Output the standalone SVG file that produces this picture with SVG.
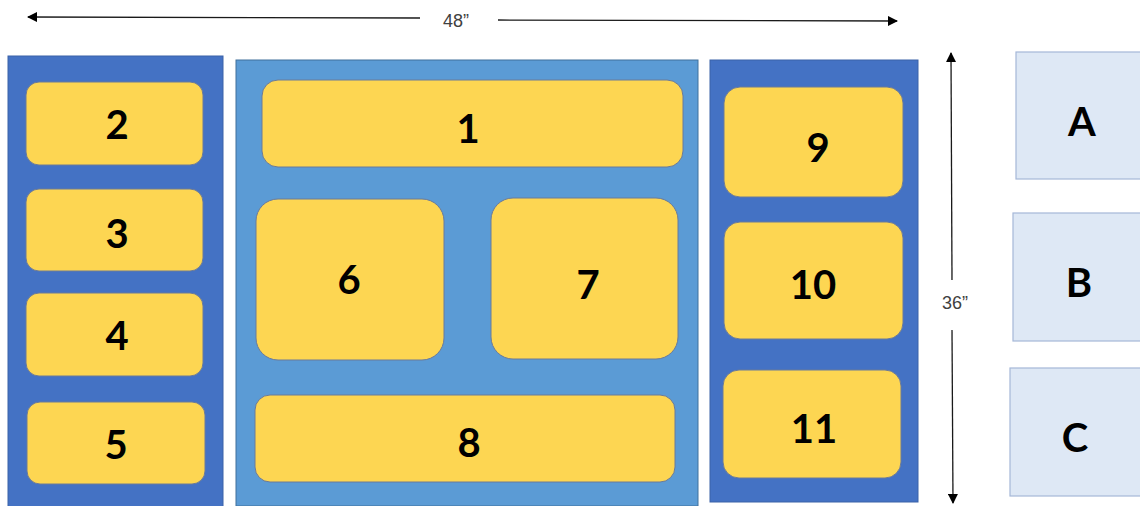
<svg xmlns="http://www.w3.org/2000/svg" width="1140" height="506" viewBox="0 0 1140 506">
<defs>
<style>
.dark{fill:#4472C4;stroke:#3A62A8;stroke-width:1}
.mid{fill:#5B9BD5;stroke:#41719C;stroke-width:1}
.box{fill:#FDD652;stroke:#6B7A99;stroke-width:1}
.side{fill:#DEE8F5;stroke:#A5B7D8;stroke-width:1.2}
.lbl{font-family:Lato,"Open Sans",sans-serif;font-weight:bold;font-size:40px;fill:#000;text-anchor:middle}
.dim{font-family:"Liberation Sans",Arial,sans-serif;font-size:18px;fill:#404040;text-anchor:middle}
.line{stroke:#1a1a1a;stroke-width:1.3;fill:none}
</style>
<marker id="ah" viewBox="0 0 10 10" refX="9" refY="5" markerWidth="10" markerHeight="10" markerUnits="userSpaceOnUse" orient="auto">
<path d="M0,0 L10,5 L0,10 Z" fill="#000"/>
</marker>
</defs>
<rect width="1140" height="506" fill="#fff"/>
<g id="panels">
<rect id="panel-left" class="dark" x="8" y="56" width="215" height="452"/>
<rect id="panel-center" class="mid" x="236" y="60" width="462" height="446"/>
<rect id="panel-right" class="dark" x="710" y="60" width="208" height="442"/>
</g>
<g id="connectors">
<line class="line" x1="420" y1="18" x2="28" y2="17" marker-end="url(#ah)"/>
<line class="line" x1="498" y1="20" x2="897" y2="21" marker-end="url(#ah)"/>
<line class="line" x1="952" y1="280" x2="951" y2="53" marker-end="url(#ah)"/>
<line class="line" x1="952" y1="330" x2="953" y2="503" marker-end="url(#ah)"/>
</g>
<g id="dim-48"><text class="dim" x="456" y="27">48”</text></g>
<g id="dim-36"><text class="dim" x="955" y="309">36”</text></g>
<g id="n1"><rect class="box" x="262" y="80" width="421" height="87" rx="16"/><text class="lbl" x="468" y="143">1</text></g>
<g id="n2"><rect class="box" x="26" y="82" width="177" height="83" rx="13"/><text class="lbl" x="117" y="139">2</text></g>
<g id="n3"><rect class="box" x="26" y="189" width="177" height="82" rx="13"/><text class="lbl" x="117" y="248">3</text></g>
<g id="n4"><rect class="box" x="26" y="293" width="177" height="83" rx="13"/><text class="lbl" x="117" y="350">4</text></g>
<g id="n5"><rect class="box" x="27" y="402" width="178" height="82" rx="13"/><text class="lbl" x="116" y="459">5</text></g>
<g id="n6"><rect class="box" x="256" y="199" width="188" height="161" rx="22"/><text class="lbl" x="349" y="294">6</text></g>
<g id="n7"><rect class="box" x="491" y="198" width="187" height="161" rx="22"/><text class="lbl" x="588" y="299">7</text></g>
<g id="n8"><rect class="box" x="255" y="395" width="420" height="87" rx="15"/><text class="lbl" x="469" y="457">8</text></g>
<g id="n9"><rect class="box" x="724" y="87" width="179" height="110" rx="16"/><text class="lbl" x="818" y="162">9</text></g>
<g id="n10"><rect class="box" x="724" y="222" width="179" height="117" rx="16"/><text class="lbl" x="813" y="299">10</text></g>
<g id="n11"><rect class="box" x="723" y="370" width="178" height="108" rx="16"/><text class="lbl" x="814" y="443">11</text></g>
<g id="nA"><rect class="side" x="1016" y="52" width="130" height="127"/><text class="lbl" x="1082" y="136">A</text></g>
<g id="nB"><rect class="side" x="1013" y="213" width="133" height="128"/><text class="lbl" x="1079" y="297">B</text></g>
<g id="nC"><rect class="side" x="1010" y="368" width="136" height="128"/><text class="lbl" x="1075" y="452">C</text></g>
</svg>
